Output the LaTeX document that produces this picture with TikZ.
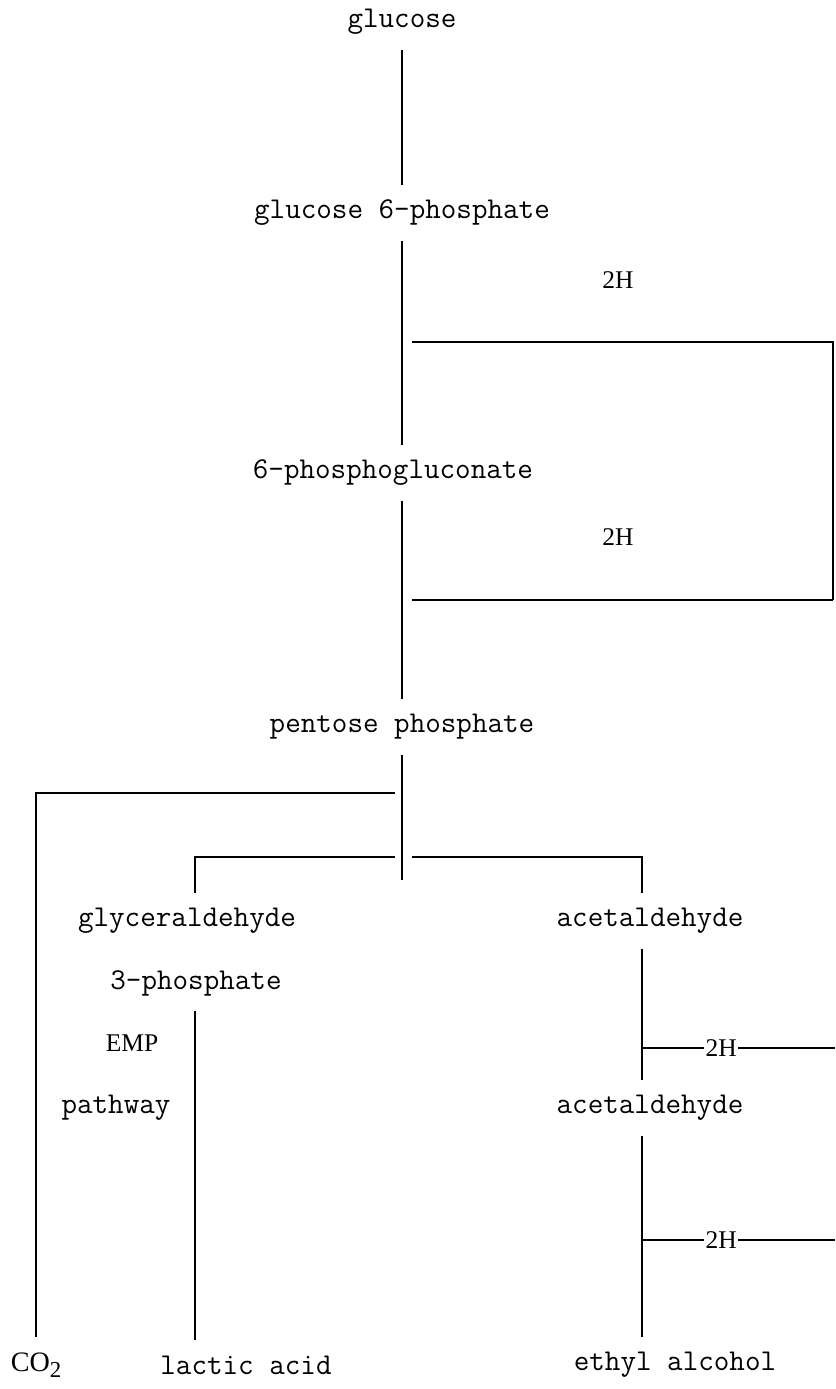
\documentclass[tikz,border=0pt]{standalone}
\usepackage{fontspec}
\setmainfont{Liberation Serif}

\tikzstyle{cmpd}=[font=\ttfamily\fontsize{17.2}{20}\selectfont, inner xsep=0pt, inner ysep=0.3cm]
\tikzstyle{lbl}=[font=\fontsize{14.5}{16}\selectfont, inner sep=1pt]
\tikzstyle{link}=[line width=0.9pt]

\begin{document}
\begin{tikzpicture}[x=0.02cm, y=-0.02cm]
            \useasboundingbox (0,0) rectangle (835,1389);

            % Látky
            \node[cmpd] (glc) at (402,22) {glucose};
            \node[cmpd] (gsp) at (402,213) {glucose 6-phosphate};
            \node[cmpd] (pgl) at (393,473) {6-phosphogluconate};
            \node[cmpd] (pen) at (402,727) {pentose phosphate};
            \node[cmpd] (gald) at (187,921) {glyceraldehyde};
            \node[cmpd] (gap) at (196,983) {3-phosphate};
            \node[lbl] (emp) at (132,1043) {EMP};
            \node[cmpd] (pw) at (116,1108) {pathway};
            \node[cmpd] (ald1) at (650,921) {acetaldehyde};
            \node[cmpd] (ald2) at (650,1108) {acetaldehyde};
            \node[lbl, font=\fontsize{16}{18}\selectfont, inner ysep=0.3cm] (co2) at (36,1365) {CO\raisebox{-0.45ex}{\fontsize{13}{13}\selectfont 2}};
            \node[cmpd] (lac) at (246,1365) {lactic acid};
            \node[cmpd] (eth) at (675,1365) {ethyl alcohol};

            % Body větvení
            \coordinate (h1a) at (412,342);
            \coordinate (h1b) at (833,342);
            \coordinate (h2a) at (412,600);
            \coordinate (h2b) at (833,600);
            \coordinate (split) at (402,880);
            \coordinate (lb) at (395,793);
            \coordinate (gb) at (395,857);
            \coordinate (gcol) at (195,857);
            \coordinate (ab) at (412,857);
            \coordinate (acol) at (642,857);
            \coordinate (r1) at (835,1048);
            \coordinate (r2) at (835,1240);

            % Hlavní osa
            \draw[link] (glc) -- (gsp);
            \draw[link] (gsp.south) -- (gsp.south |- pgl.north);
            \draw[link] (pgl.south -| gsp) -- (pen);
            \draw[link] (pen) -- (split);

            % Odbočky 2H nahoře
            \draw[link] (h1a) -- (h1b) -- (h2b);
            \draw[link] (h2a) -- (h2b);
            \node[lbl] (hh1) at (618,280) {2H};
            \node[lbl] (hh2) at (618,537) {2H};

            % Levé větve
            \draw[link] (lb) -- (lb -| co2) -- (co2);
            \draw[link] (gb) -- (gcol) -- (gcol |- gald.north);
            \draw[link] (gcol |- gap.south) -- (gcol |- lac.north);

            % Pravá větev
            \draw[link] (ab) -- (acol) -- (acol |- ald1.north);
            \draw[link] (acol |- ald1.south) -- (acol |- ald2.north);
            \draw[link] (acol |- ald2.south) -- (acol |- eth.north);
            \draw[link] (acol |- r1) -- node[lbl, pos=0.41, fill=white] (hh3) {2H} (r1);
            \draw[link] (acol |- r2) -- node[lbl, pos=0.41, fill=white] (hh4) {2H} (r2);
        \end{tikzpicture}
\end{document}
